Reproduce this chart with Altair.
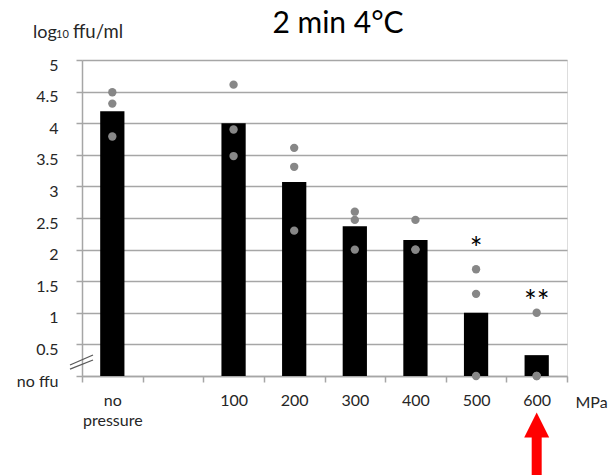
import altair as alt
import pandas as pd

# ---- data ----
categories = ["no pressure", " ", "100", "200", "300", "400", "500", "600"]
bar_cats = ["no pressure", "100", "200", "300", "400", "500", "600"]
bar_values = [4.19, 4.0, 3.07, 2.37, 2.15, 1.0, 0.33]
point_cats = (["no pressure"] * 3 + ["100"] * 3 + ["200"] * 3 + ["300"] * 3
              + ["400"] * 3 + ["500"] * 3 + ["600"] * 3)
point_values = [4.49, 4.31, 3.79,
                4.61, 3.90, 3.48,
                3.61, 3.31, 2.30,
                2.60, 2.47, 2.00,
                2.47, 2.00, 2.00,
                1.69, 1.30, 0.00,
                1.00, 0.00, 0.00]
star_cats = ["500", "600"]
star_labels = ["*", "**"]
star_y = [1.85, 1.02]
y_ticks = [0, 0.5, 1, 1.5, 2, 2.5, 3, 3.5, 4, 4.5, 5]
title_text = "2 min 4°C"
ytitle_parts = ["log", "10", "ffu/ml"]

FONT = "Lato"
TXT = "#262626"
GRID = "#a6a6a6"

bars_df = pd.DataFrame({"cat": bar_cats, "val": bar_values})
pts_df = pd.DataFrame({"cat": point_cats, "val": point_values})
stars_df = pd.DataFrame({"cat": star_cats, "label": star_labels, "val": star_y})
arrow_head_df = pd.DataFrame({"cat": ["600"], "val": [-0.777]})
arrow_shaft_df = pd.DataFrame({"cat": ["600"], "val": [-0.96], "val2": [-1.8]})
slash_df = pd.DataFrame({"val": [0.174, 0.110], "val2": [0.332, 0.253]})

x_axis = alt.Axis(
    title="MPa", titleFont=FONT, titleFontSize=16, titleFontWeight="normal",
    titleColor=TXT, titleAlign="left", titleBaseline="alphabetic",
    titleX=493, titleY=31, titleAnchor="start",
    labelFont=FONT, labelFontSize=16, labelColor=TXT, labelAngle=0,
    labelBaseline="alphabetic", labelPadding=23, labelLineHeight=20,
    labelExpr="datum.value == 'no pressure' ? ['no', 'pressure'] : datum.value",
    tickBand="extent", tickSize=6, tickColor=GRID, tickWidth=1.5,
    domainColor=GRID, domainWidth=1.5, grid=False,
)
y_axis = alt.Axis(
    title=None,
    values=y_ticks, labelFont=FONT, labelFontSize=16, labelColor=TXT,
    labelPadding=18, labelOffset=5, labelBaseline="middle",
    labelExpr="datum.value == 0 ? 'no ffu' : '' + datum.value",
    tickSize=6, tickColor=GRID, tickWidth=1.5,
    domainColor=GRID, domainWidth=1.5,
    grid=True, gridColor=GRID, gridWidth=1.5,
)

x_scale = alt.Scale(domain=categories, paddingInner=0, paddingOuter=0)
y_scale = alt.Scale(domain=[0, 5], nice=False, zero=False)

X = alt.X("cat:N", scale=x_scale, sort=categories, axis=x_axis)
Y = alt.Y("val:Q", scale=y_scale, axis=y_axis)

bars = alt.Chart(bars_df).mark_bar(color="black", width=alt.RelativeBandSize(0.4)).encode(x=X, y=Y)
points = alt.Chart(pts_df).mark_point(filled=True, color="#878787", size=70, opacity=1).encode(x=X, y=Y)
stars = alt.Chart(stars_df).mark_text(font=FONT, fontSize=30, color="black",
                                      baseline="alphabetic").encode(x=X, y=Y, text="label:N")
arrow_shaft = alt.Chart(arrow_shaft_df).mark_rule(color="#ff0000", strokeWidth=10).encode(
    x=X, y=Y, y2="val2:Q")
arrow_head = alt.Chart(arrow_head_df).mark_point(
    shape="M0,-1L1,1L-1,1Z", filled=True, color="#ff0000", size=625, opacity=1).encode(x=X, y=Y)
slashes = alt.Chart(slash_df).mark_rule(color="#595959", strokeWidth=1.3).encode(
    x=alt.value(-12), x2=alt.value(11), y=Y, y2="val2:Q")

# title and y-axis title (with subscript) as text annotations
title = alt.Chart(pd.DataFrame({"t": [title_text]})).mark_text(
    font=FONT, fontSize=30, color="black", align="center", baseline="alphabetic"
).encode(x=alt.value(256), y=alt.value(-27), text="t:N")
yt1 = alt.Chart(pd.DataFrame({"t": [ytitle_parts[0]]})).mark_text(
    font=FONT, fontSize=18, color=TXT, align="left", baseline="alphabetic"
).encode(x=alt.value(-49), y=alt.value(-22.5), text="t:N")
yt2 = alt.Chart(pd.DataFrame({"t": [ytitle_parts[1]]})).mark_text(
    font=FONT, fontSize=11, color=TXT, align="left", baseline="alphabetic"
).encode(x=alt.value(-26), y=alt.value(-22), text="t:N")
yt3 = alt.Chart(pd.DataFrame({"t": [ytitle_parts[2]]})).mark_text(
    font=FONT, fontSize=18.5, color=TXT, align="left", baseline="alphabetic"
).encode(x=alt.value(-9), y=alt.value(-22.5), text="t:N")

chart = alt.layer(bars, points, stars, arrow_shaft, arrow_head, slashes,
                  title, yt1, yt2, yt3).properties(
    width=485, height=316,
    padding={"left": 82, "top": 60, "right": 44, "bottom": 99},
    autosize=alt.AutoSizeParams(type="none"),
).configure_view(stroke=None).configure(background="white")

chart.save("out.html", embed_options={"renderer": "svg", "actions": False})
